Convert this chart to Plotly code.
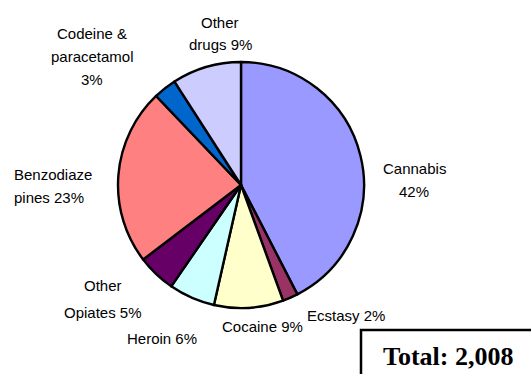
import plotly.graph_objects as go

# Drug categories and their share of the total (percent)
labels = ["Cannabis", "Ecstasy", "Cocaine", "Heroin", "Other Opiates",
          "Benzodiazepines", "Codeine & paracetamol", "Other drugs"]
shares = [42, 2, 9, 6, 5, 23, 3, 9]
colors = ["#9999FF", "#993366", "#FFFFCC", "#CCFFFF", "#660066",
          "#FF8080", "#0066CC", "#CCCCFF"]
label_lines = [["Cannabis", "42%"], ["Ecstasy 2%"], ["Cocaine 9%"], ["Heroin 6%"],
               ["Other", "Opiates 5%"], ["Benzodiaze", "pines 23%"],
               ["Codeine &", "paracetamol", "3%"], ["Other", "drugs 9%"]]
total_text = "Total: 2,008"

W, H = 531, 374
cx, cy, r = 241, 185, 123


def px(x):
    return x / W


def py(y):
    return 1 - y / H


fig = go.Figure(go.Pie(
    labels=labels,
    values=shares,
    sort=False,
    direction="clockwise",
    rotation=0,
    marker=dict(colors=colors, line=dict(color="black", width=2.4)),
    textinfo="none",
    hoverinfo="label+percent",
    showlegend=False,
    domain=dict(x=[px(cx - r), px(cx + r)], y=[py(cy + r), py(cy - r)]),
))

# Label placement: anchor x, first-line y, line step, alignment (pixels)
label_pos = [
    (414, 168, 23, "center"),
    (346, 315, 0, "center"),
    (262, 326, 0, "center"),
    (162, 338, 0, "center"),
    (103, 285, 27, "center"),
    (12, 174, 23, "left"),
    (92, 33, 23.5, "center"),
    (220, 22, 22, "center"),
]

annotations = []
for lines, (x, y0, step, al) in zip(label_lines, label_pos):
    for i, line in enumerate(lines):
        annotations.append(dict(
            x=px(x), y=py(y0 + i * step), xref="paper", yref="paper", text=line,
            showarrow=False, align=al,
            xanchor="left" if al == "left" else "center", yanchor="middle",
            font=dict(family="Liberation Sans, Arial", size=15, color="black"),
        ))

annotations.append(dict(
    x=px(448), y=py(356), xref="paper", yref="paper", text="<b>" + total_text + "</b>",
    showarrow=False, xanchor="center", yanchor="middle",
    font=dict(family="Liberation Serif, Times New Roman", size=26, color="black"),
))

fig.update_layout(
    width=W, height=H,
    margin=dict(l=0, r=0, t=0, b=0),
    paper_bgcolor="white",
    plot_bgcolor="white",
    annotations=annotations,
    shapes=[dict(type="rect", xref="paper", yref="paper",
                 x0=px(361), x1=px(545), y0=py(330), y1=py(390),
                 line=dict(color="black", width=2.5), fillcolor="rgba(0,0,0,0)")],
)

fig.write_html("out.html")
